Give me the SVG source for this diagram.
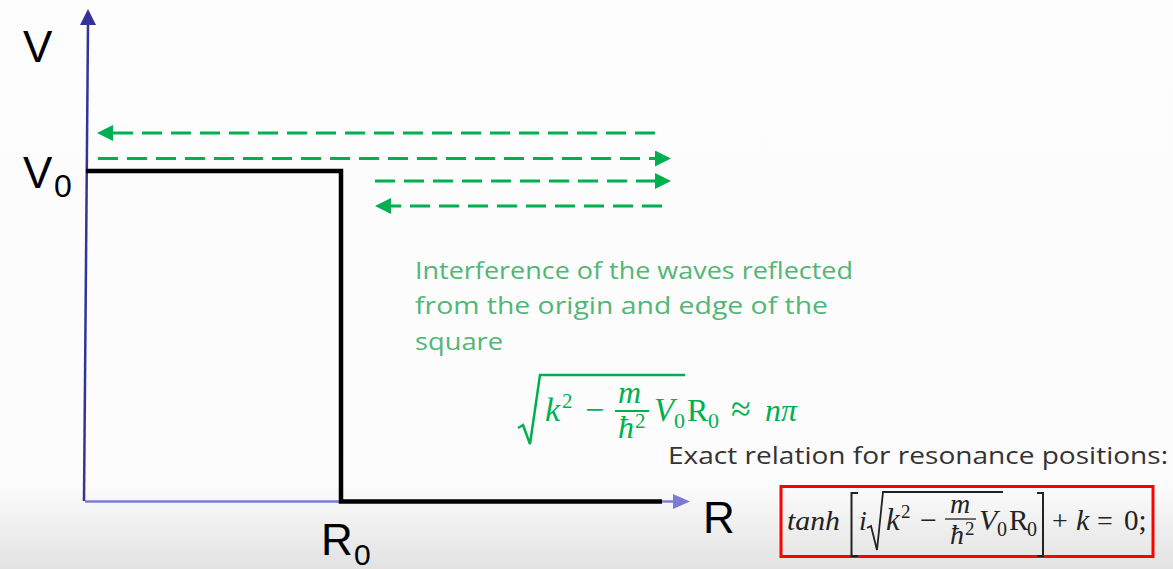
<svg xmlns="http://www.w3.org/2000/svg" width="1173" height="569" viewBox="0 0 1173 569">
  <defs>
    <linearGradient id="bg" x1="0" y1="0" x2="0" y2="1">
      <stop offset="0" stop-color="#fdfdfd"/>
      <stop offset="0.85" stop-color="#fcfcfc"/>
      <stop offset="1" stop-color="#e2e2e2"/>
    </linearGradient>
    <marker id="gh" markerUnits="userSpaceOnUse" markerWidth="16" markerHeight="16" viewBox="0 0 16 16" refX="0" refY="8" orient="auto">
      <path d="M0,0 L16,8 L0,16 Z" fill="#00b050"/>
    </marker>
    <style>
      .lbl { font-family: "Liberation Sans", Arial, sans-serif; fill: #000; }
      .wave { stroke: #00b050; stroke-width: 3; stroke-dasharray: 20 9; fill: none; }
      .note { font-family: "Open Sans", "Liberation Sans", sans-serif; fill: #52b676; font-size: 24px; }
      .m { font-family: "Liberation Serif", "Times New Roman", serif; }
      .it { font-style: italic; }
      .g { fill: #00b050; }
      .k { fill: #222; }
    </style>
  </defs>
  <rect x="0" y="0" width="1173" height="569" fill="url(#bg)"/>

  <g id="axes">
    <line x1="84" y1="501" x2="88" y2="24" stroke="#33339a" stroke-width="2.5"/>
    <polygon points="80,25 96,25 88,9" fill="#33339a"/>
    <line x1="85" y1="501.5" x2="674" y2="501.5" stroke="#7b7bd6" stroke-width="2.5"/>
    <polygon points="673,494 690,501.5 673,509" fill="#7b7bd6"/>
  </g>

  <g id="potential">
    <polyline points="86,171 341,171 341,501.5 662,501.5" fill="none" stroke="#000" stroke-width="4.5"/>
  </g>

  <g id="labels">
    <text class="lbl" x="23" y="62" font-size="44">V</text>
    <text class="lbl" x="23" y="188" font-size="44">V</text>
    <text class="lbl" x="54" y="197" font-size="32">0</text>
    <text class="lbl" x="703" y="533" font-size="44">R</text>
    <text class="lbl" x="321" y="555" font-size="44">R</text>
    <text class="lbl" x="354" y="565" font-size="30">0</text>
  </g>

  <g id="connectors">
    <line class="wave" x1="655" y1="133" x2="113" y2="133" marker-end="url(#gh)"/>
    <line class="wave" x1="98" y1="158.5" x2="655" y2="158.5" marker-end="url(#gh)"/>
    <line class="wave" x1="375" y1="181" x2="655" y2="181" marker-end="url(#gh)"/>
    <line class="wave" x1="662" y1="206" x2="391" y2="206" marker-end="url(#gh)"/>
  </g>

  <g id="note">
    <text class="note" x="415" y="279" textLength="438" lengthAdjust="spacingAndGlyphs">Interference of the waves reflected</text>
    <text class="note" x="415" y="314" textLength="413" lengthAdjust="spacingAndGlyphs">from the origin and edge of the</text>
    <text class="note" x="415" y="350" textLength="88" lengthAdjust="spacingAndGlyphs">square</text>
  </g>

  <g id="approx-formula" class="m g">
    <path d="M518,428 L523,425 L530,444 L540,375 L685,375" fill="none" stroke="#00b050" stroke-width="2.5"/>
    <text class="it" x="545" y="421" font-size="34">k</text>
    <text x="562" y="408" font-size="21">2</text>
    <text x="585" y="421" font-size="34">−</text>
    <text class="it" x="618" y="403" font-size="32">m</text>
    <line x1="615" y1="411" x2="649" y2="411" stroke="#00b050" stroke-width="1.8"/>
    <text class="it" x="618" y="438" font-size="32">ħ</text>
    <text x="635" y="428" font-size="21">2</text>
    <text class="it" x="654" y="421" font-size="33">V</text>
    <text x="674" y="428" font-size="22">0</text>
    <text x="687" y="421" font-size="32">R</text>
    <text x="708" y="428" font-size="22">0</text>
    <text x="731" y="421" font-size="36">≈</text>
    <text class="it" x="765" y="421" font-size="32">nπ</text>
  </g>

  <g id="exact-label">
    <text x="668" y="464" font-family="Open Sans, Liberation Sans, sans-serif" font-size="24" fill="#333" textLength="500" lengthAdjust="spacingAndGlyphs">Exact relation for resonance positions:</text>
  </g>

  <g id="exact-formula" class="m k">
    <rect x="781" y="486.5" width="372" height="70" fill="none" stroke="#ff0000" stroke-width="3"/>
    <text class="it" x="787" y="530" font-size="28" textLength="53" lengthAdjust="spacingAndGlyphs">tanh</text>
    <path d="M858,493 L851.5,493 L851.5,556 L858,556" fill="none" stroke="#222" stroke-width="2"/>
    <text class="it" x="859" y="530" font-size="28">i</text>
    <path d="M867,528 L871,526 L877,550 L883,492 L1003,492" fill="none" stroke="#222" stroke-width="1.8"/>
    <text class="it" x="886" y="530" font-size="31">k</text>
    <text x="901" y="518" font-size="19">2</text>
    <text x="920" y="530" font-size="30">−</text>
    <text class="it" x="950" y="513" font-size="28">m</text>
    <line x1="945" y1="519" x2="976" y2="519" stroke="#222" stroke-width="1.3"/>
    <text class="it" x="950" y="544" font-size="28">ħ</text>
    <text x="965" y="535" font-size="19">2</text>
    <text class="it" x="979" y="530" font-size="30">V</text>
    <text x="997" y="536" font-size="20">0</text>
    <text x="1009" y="530" font-size="29">R</text>
    <text x="1027" y="536" font-size="20">0</text>
    <path d="M1037,493 L1043,493 L1043,556 L1037,556" fill="none" stroke="#222" stroke-width="2"/>
    <text x="1052" y="530" font-size="28">+</text>
    <text class="it" x="1076" y="530" font-size="30">k</text>
    <text x="1097" y="530" font-size="28">=</text>
    <text x="1124" y="530" font-size="29">0;</text>
  </g>
</svg>
